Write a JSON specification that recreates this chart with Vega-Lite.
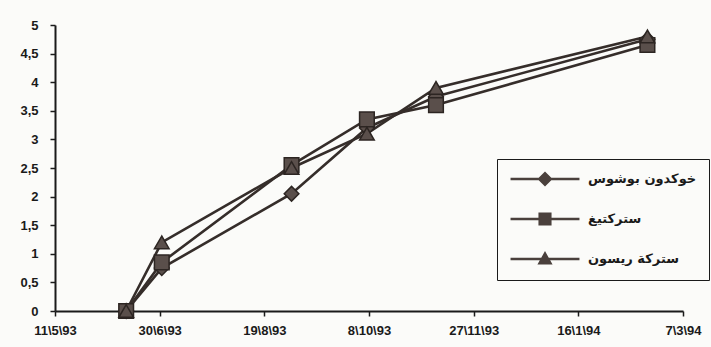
{
  "$schema": "https://vega.github.io/schema/vega-lite/v6.json",
  "width": 628,
  "height": 286,
  "autosize": {"type": "none"},
  "padding": {"left": 55, "top": 25, "right": 28, "bottom": 36},
  "background": "#fbfbf9",
  "data": {
    "values": [
      {"date": "1993-06-14", "series": "خوکدون بوشوس", "value": 0},
      {"date": "1993-07-01", "series": "خوکدون بوشوس", "value": 0.75},
      {"date": "1993-09-01", "series": "خوکدون بوشوس", "value": 2.05},
      {"date": "1993-10-07", "series": "خوکدون بوشوس", "value": 3.2},
      {"date": "1993-11-09", "series": "خوکدون بوشوس", "value": 3.75},
      {"date": "1994-02-18", "series": "خوکدون بوشوس", "value": 4.75},
      {"date": "1993-06-14", "series": "ستركتيغ", "value": 0},
      {"date": "1993-07-01", "series": "ستركتيغ", "value": 0.85},
      {"date": "1993-09-01", "series": "ستركتيغ", "value": 2.55},
      {"date": "1993-10-07", "series": "ستركتيغ", "value": 3.35},
      {"date": "1993-11-09", "series": "ستركتيغ", "value": 3.6},
      {"date": "1994-02-18", "series": "ستركتيغ", "value": 4.65},
      {"date": "1993-06-14", "series": "ستركة ريسون", "value": 0},
      {"date": "1993-07-01", "series": "ستركة ريسون", "value": 1.2},
      {"date": "1993-09-01", "series": "ستركة ريسون", "value": 2.5},
      {"date": "1993-10-07", "series": "ستركة ريسون", "value": 3.1},
      {"date": "1993-11-09", "series": "ستركة ريسون", "value": 3.9},
      {"date": "1994-02-18", "series": "ستركة ريسون", "value": 4.8}
    ]
  },
  "encoding": {
    "x": {
      "field": "date",
      "type": "temporal",
      "scale": {
        "type": "utc",
        "domain": [
          {"year": 1993, "month": 5, "date": 11, "utc": true},
          {"year": 1994, "month": 3, "date": 7, "utc": true}
        ]
      },
      "axis": {
        "title": null,
        "grid": false,
        "labelExpr": "utcFormat(datum.value, '%-d\\\\%-m\\\\%y')",
        "values": [
          {"year": 1993, "month": 5, "date": 11, "utc": true},
          {"year": 1993, "month": 6, "date": 30, "utc": true},
          {"year": 1993, "month": 8, "date": 19, "utc": true},
          {"year": 1993, "month": 10, "date": 8, "utc": true},
          {"year": 1993, "month": 11, "date": 27, "utc": true},
          {"year": 1994, "month": 1, "date": 16, "utc": true},
          {"year": 1994, "month": 3, "date": 7, "utc": true}
        ],
        "labelFlush": false,
        "labelOverlap": false,
        "labelPadding": 8
      }
    },
    "y": {
      "field": "value",
      "type": "quantitative",
      "scale": {"domain": [0, 5], "nice": false, "zero": true},
      "axis": {
        "title": null,
        "grid": false,
        "values": [0, 0.5, 1, 1.5, 2, 2.5, 3, 3.5, 4, 4.5, 5],
        "labelExpr": "replace(format(datum.value, '.1~f'), '.', ',')",
        "labelPadding": 12
      }
    }
  },
  "layer": [
    {
      "mark": {"type": "line", "color": "#352d2a", "strokeWidth": 2.6},
      "encoding": {"detail": {"field": "series"}}
    },
    {
      "mark": {"type": "point", "filled": true, "size": 190, "color": "#4a403c", "opacity": 0},
      "encoding": {
        "shape": {
          "field": "series",
          "type": "nominal",
          "sort": ["خوکدون بوشوس", "ستركتيغ", "ستركة ريسون"],
          "scale": {
            "range": [
              "M-5,-0.17L5,-0.17L5,0.17L-5,0.17Z M-1.1,0L0,-1.1L1.1,0L0,1.1Z",
              "M-5,-0.17L5,-0.17L5,0.17L-5,0.17Z M-0.95,-0.95L0.95,-0.95L0.95,0.95L-0.95,0.95Z",
              "M-5,-0.17L5,-0.17L5,0.17L-5,0.17Z M0,-1.15L1.1,0.8L-1.1,0.8Z"
            ]
          },
          "legend": {
            "title": null,
            "orient": "none",
            "legendX": 442,
            "legendY": 134,
            "padding": 12,
            "strokeColor": "#1a1a1a",
            "fillColor": "#fbfbf9",
            "rowPadding": 19,
            "symbolSize": 190,
            "symbolOpacity": 1,
            "symbolFillColor": "#4a403c",
            "symbolOffset": 28,
            "labelOffset": 35,
            "labelFont": "DejaVu Sans",
            "labelFontSize": 13,
            "labelFontWeight": "bold",
            "labelColor": "#1a1a1a"
          }
        }
      }
    },
    {
      "mark": {"type": "point", "filled": true, "size": 215, "color": "#5a4f4b", "stroke": "#2c2522", "strokeWidth": 1.5, "opacity": 1},
      "encoding": {
        "shape": {
          "field": "series",
          "type": "nominal",
          "sort": ["خوکدون بوشوس", "ستركتيغ", "ستركة ريسون"],
          "scale": {"range": ["diamond", "square", "triangle-up"]},
          "legend": null
        }
      }
    }
  ],
  "resolve": {"scale": {"shape": "independent"}, "legend": {"shape": "independent"}},
  "config": {
    "view": {"stroke": null},
    "axis": {
      "domainColor": "#1a1a1a",
      "domainWidth": 2,
      "tickColor": "#1a1a1a",
      "tickWidth": 1.5,
      "tickSize": 5,
      "labelFont": "Liberation Sans",
      "labelFontSize": 13,
      "labelFontWeight": "bold",
      "labelColor": "#1a1a1a"
    }
  }
}
